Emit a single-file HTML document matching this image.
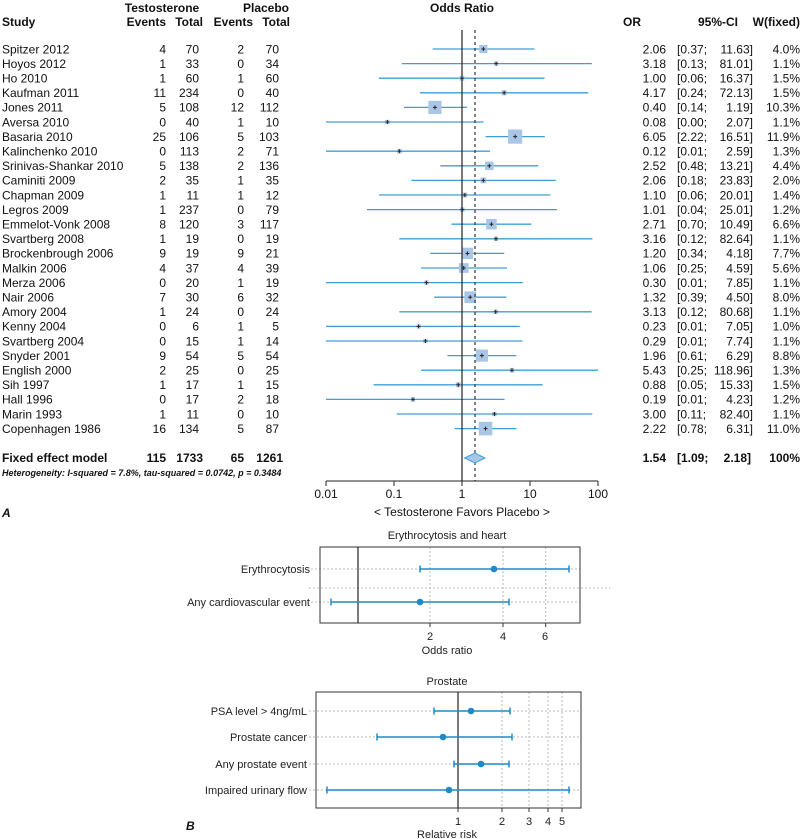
<!DOCTYPE html>
<html><head><meta charset="utf-8"><style>
body{margin:0;background:#fff;}
svg{display:block;font-family:"Liberation Sans",sans-serif;}
</style></head><body>
<svg id="s" width="802" height="839" viewBox="0 0 802 839" xmlns="http://www.w3.org/2000/svg">
<g font-size="12" fill="#111">
<g font-weight="bold">
<text x="162" y="12" text-anchor="middle">Testosterone</text>
<text x="266" y="12" text-anchor="middle">Placebo</text>
<text x="2" y="26">Study</text>
<text x="166" y="26" text-anchor="end">Events</text>
<text x="203" y="26" text-anchor="end">Total</text>
<text x="253" y="26" text-anchor="end">Events</text>
<text x="290" y="26" text-anchor="end">Total</text>
<text x="462" y="12" text-anchor="middle">Odds Ratio</text>
<text x="641" y="26" text-anchor="end">OR</text>
<text x="738" y="26" text-anchor="end">95%-CI</text>
<text x="800" y="26" text-anchor="end">W(fixed)</text>
</g>
<g id="rows"></g>
<g font-weight="bold">
<text x="2" y="462">Fixed effect model</text>
<text x="166" y="462" text-anchor="end">115</text>
<text x="203" y="462" text-anchor="end">1733</text>
<text x="244" y="462" text-anchor="end">65</text>
<text x="283" y="462" text-anchor="end">1261</text>
<text x="666" y="462" text-anchor="end">1.54</text>
<text x="677" y="462">[1.09;</text>
<text x="751" y="462" text-anchor="end">2.18]</text>
<text x="800" y="462" text-anchor="end">100%</text>
</g>
<text x="2" y="476" font-size="9" font-style="italic" font-weight="bold">Heterogeneity: I-squared = 7.8%, tau-squared = 0.0742, p = 0.3484</text>
<text x="2" y="517" font-style="italic" font-weight="bold">A</text>
<text x="326" y="498" text-anchor="middle">0.01</text>
<text x="394" y="498" text-anchor="middle">0.1</text>
<text x="462" y="498" text-anchor="middle">1</text>
<text x="530" y="498" text-anchor="middle">10</text>
<text x="598" y="498" text-anchor="middle">100</text>
<text x="462" y="516" text-anchor="middle">&lt; Testosterone Favors Placebo &gt;</text>
</g>
<g font-size="11" fill="#222">
<text x="447" y="539" text-anchor="middle">Erythrocytosis and heart</text>
<text x="310" y="573" text-anchor="end">Erythrocytosis</text>
<text x="310" y="606" text-anchor="end">Any cardiovascular event</text>
<text x="430" y="640" text-anchor="middle">2</text>
<text x="503" y="640" text-anchor="middle">4</text>
<text x="545" y="640" text-anchor="middle">6</text>
<text x="447" y="654" text-anchor="middle">Odds ratio</text>
<text x="447" y="685" text-anchor="middle">Prostate</text>
<text x="307" y="715" text-anchor="end">PSA level &gt; 4ng/mL</text>
<text x="307" y="741" text-anchor="end">Prostate cancer</text>
<text x="307" y="768" text-anchor="end">Any prostate event</text>
<text x="307" y="794" text-anchor="end">Impaired urinary flow</text>
<text x="458" y="825" text-anchor="middle">1</text>
<text x="502" y="825" text-anchor="middle">2</text>
<text x="529" y="825" text-anchor="middle">3</text>
<text x="548" y="825" text-anchor="middle">4</text>
<text x="562" y="825" text-anchor="middle">5</text>
<text x="447" y="838" text-anchor="middle">Relative risk</text>
<text x="186" y="830" font-size="12" font-style="italic" font-weight="bold" fill="#111">B</text>
</g>
<g id="g"></g>
</svg>
<script>
var NS="http://www.w3.org/2000/svg";
function el(p,t,a,txt){var e=document.createElementNS(NS,t);for(var k in a)e.setAttribute(k,a[k]);if(txt!=null)e.textContent=txt;p.appendChild(e);return e;}
var g=document.getElementById('g'),rows=document.getElementById('rows');
var D=[["Spitzer 2012",4,70,2,70,"2.06","0.37","11.63","4.0"],["Hoyos 2012",1,33,0,34,"3.18","0.13","81.01","1.1"],["Ho 2010",1,60,1,60,"1.00","0.06","16.37","1.5"],["Kaufman 2011",11,234,0,40,"4.17","0.24","72.13","1.5"],["Jones 2011",5,108,12,112,"0.40","0.14","1.19","10.3"],["Aversa 2010",0,40,1,10,"0.08","0.00","2.07","1.1"],["Basaria 2010",25,106,5,103,"6.05","2.22","16.51","11.9"],["Kalinchenko 2010",0,113,2,71,"0.12","0.01","2.59","1.3"],["Srinivas-Shankar 2010",5,138,2,136,"2.52","0.48","13.21","4.4"],["Caminiti 2009",2,35,1,35,"2.06","0.18","23.83","2.0"],["Chapman 2009",1,11,1,12,"1.10","0.06","20.01","1.4"],["Legros 2009",1,237,0,79,"1.01","0.04","25.01","1.2"],["Emmelot-Vonk 2008",8,120,3,117,"2.71","0.70","10.49","6.6"],["Svartberg 2008",1,19,0,19,"3.16","0.12","82.64","1.1"],["Brockenbrough 2006",9,19,9,21,"1.20","0.34","4.18","7.7"],["Malkin 2006",4,37,4,39,"1.06","0.25","4.59","5.6"],["Merza 2006",0,20,1,19,"0.30","0.01","7.85","1.1"],["Nair 2006",7,30,6,32,"1.32","0.39","4.50","8.0"],["Amory 2004",1,24,0,24,"3.13","0.12","80.68","1.1"],["Kenny 2004",0,6,1,5,"0.23","0.01","7.05","1.0"],["Svartberg 2004",0,15,1,14,"0.29","0.01","7.74","1.1"],["Snyder 2001",9,54,5,54,"1.96","0.61","6.29","8.8"],["English 2000",2,25,0,25,"5.43","0.25","118.96","1.3"],["Sih 1997",1,17,1,15,"0.88","0.05","15.33","1.5"],["Hall 1996",0,17,2,18,"0.19","0.01","4.23","1.2"],["Marin 1993",1,11,0,10,"3.00","0.11","82.40","1.1"],["Copenhagen 1986",16,134,5,87,"2.22","0.78","6.31","11.0"]];
function X(v){v=Math.max(v,0.0095);return 462+68*Math.log10(v);}
var blue="#3d9fd4";
D.forEach(function(d,i){var y=49+i*14.6,ty=y+4.3;
el(rows,'text',{x:2,y:ty},d[0]);
el(rows,'text',{x:166,y:ty,'text-anchor':'end'},d[1]);
el(rows,'text',{x:199,y:ty,'text-anchor':'end'},d[2]);
el(rows,'text',{x:244,y:ty,'text-anchor':'end'},d[3]);
el(rows,'text',{x:279,y:ty,'text-anchor':'end'},d[4]);
el(rows,'text',{x:666,y:ty,'text-anchor':'end'},d[5]);
el(rows,'text',{x:677,y:ty},"["+d[6]+";");
el(rows,'text',{x:753,y:ty,'text-anchor':'end'},d[7]+"]");
el(rows,'text',{x:800,y:ty,'text-anchor':'end'},d[8]+"%");
var lo=X(+d[6]),hi=Math.min(X(+d[7]),598),c=X(+d[5]);
el(g,'line',{x1:Math.max(lo,326),x2:hi,y1:y,y2:y,stroke:blue,'stroke-width':1.3});
var s=4.1*Math.sqrt(+d[8]);
el(g,'rect',{x:c-s/2,y:y-s/2,width:s,height:s,fill:'#a9c6e6'});
el(g,'line',{x1:c-2,x2:c+2,y1:y,y2:y,stroke:'#222','stroke-width':1});
el(g,'line',{x1:c,x2:c,y1:y-2,y2:y+2,stroke:'#222','stroke-width':1});
});
el(g,'line',{x1:462,x2:462,y1:30,y2:481,stroke:'#222','stroke-width':1.2});
el(g,'line',{x1:475,x2:475,y1:30,y2:481,stroke:'#333','stroke-width':1.2,'stroke-dasharray':'3,3'});
el(g,'polygon',{points:X(1.09)+",458 475,453 "+X(2.18)+",458 475,463",fill:'#a9c6e6',stroke:blue,'stroke-width':1});
el(g,'line',{x1:326,x2:598,y1:481,y2:481,stroke:'#222','stroke-width':1});
[326,394,462,530,598].forEach(function(x){el(g,'line',{x1:x,x2:x,y1:481,y2:486,stroke:'#222'});});
var b1=function(v){return 357+73*Math.log2(v);};
[2,4,6].forEach(function(v){el(g,'line',{x1:b1(v),x2:b1(v),y1:547,y2:623,stroke:'#bbb','stroke-dasharray':'2,2'});el(g,'line',{x1:b1(v),x2:b1(v),y1:623,y2:627,stroke:'#333'});});
el(g,'line',{x1:311,x2:580,y1:569,y2:569,stroke:'#bbb','stroke-dasharray':'2,2'});
el(g,'line',{x1:309,x2:610,y1:588,y2:588,stroke:'#bbb','stroke-dasharray':'2,2'});
el(g,'line',{x1:311,x2:580,y1:602,y2:602,stroke:'#bbb','stroke-dasharray':'2,2'});
el(g,'line',{x1:358,x2:358,y1:547,y2:623,stroke:'#222','stroke-width':1.2});
el(g,'rect',{x:320,y:547,width:260,height:76,fill:'none',stroke:'#333','stroke-width':1});
function ci(a,b,c,y){el(g,'line',{x1:a,x2:b,y1:y,y2:y,stroke:'#1f8ac9','stroke-width':1.5});[a,b].forEach(function(x){el(g,'line',{x1:x,x2:x,y1:y-3.5,y2:y+3.5,stroke:'#1f8ac9','stroke-width':1.5});});el(g,'circle',{cx:c,cy:y,r:3.3,fill:'#1f8ac9'});}
ci(420,569,494,569);ci(331,509,420,602);
[502,529,548,562].forEach(function(x){el(g,'line',{x1:x,x2:x,y1:692,y2:808,stroke:'#bbb','stroke-dasharray':'2,2'});});
[458,502,529,548,562].forEach(function(x){el(g,'line',{x1:x,x2:x,y1:808,y2:812,stroke:'#333'});});
[711,737,764,790].forEach(function(y){el(g,'line',{x1:309,x2:581,y1:y,y2:y,stroke:'#bbb','stroke-dasharray':'2,2'});});
el(g,'line',{x1:458,x2:458,y1:692,y2:808,stroke:'#222','stroke-width':1.2});
el(g,'rect',{x:316,y:692,width:265,height:116,fill:'none',stroke:'#333','stroke-width':1});
ci(434,510,471,711);ci(377,512,443,737);ci(454,509,481,764);ci(327,569,449,790);
</script>
</body></html>
